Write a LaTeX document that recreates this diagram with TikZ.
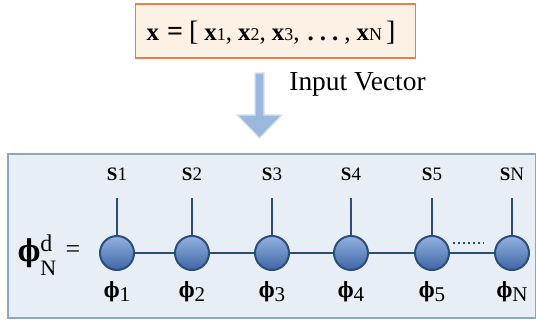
\documentclass[tikz,border=0pt]{standalone}
\usepackage{fontspec}
\setmainfont{Liberation Serif}
\newfontfamily\grkfont{DejaVu Serif}
\usepackage{amsmath}
\usetikzlibrary{positioning}
\definecolor{boxpeach}{HTML}{FDF1E6}
\definecolor{boxorange}{HTML}{E2814A}
\definecolor{panelfill}{HTML}{E8EEF6}
\definecolor{panelline}{HTML}{8EA5C6}
\definecolor{bondblue}{HTML}{2C4C7C}
\definecolor{arrowblue}{HTML}{9CB8DE}
\definecolor{balltop}{HTML}{93B3E0}
\definecolor{ballbot}{HTML}{3E66A6}
\newcommand{\bphi}{\scalebox{0.8}[1]{\grkfont\bfseries ϕ}}
\newcommand{\phisym}[1]{\bphi\raisebox{-0.4ex}{#1}}
\newcommand{\xel}[1]{{\bfseries x}{\fontsize{9}{9}\selectfont #1}}

\begin{document}
\begin{tikzpicture}[x=0.5pt, y=-0.5pt,
  site/.style={circle, minimum size=17pt, inner sep=0pt, draw=bondblue, line width=1pt,
    top color=balltop, bottom color=ballbot},
  bond/.style={bondblue, line width=1.2pt},
  slabel/.style={font=\fontsize{9.5}{10}\selectfont},
  plabel/.style={font=\fontsize{10.5}{12}\selectfont}]
\useasboundingbox (0,0) rectangle (536,320);
% input vector box
\node[draw=boxorange, fill=boxpeach, line width=0.8pt, minimum width=140pt, minimum height=27pt] (vec) at (275.5,31) {};
\node[anchor=base, inner sep=0pt, font=\fontsize{12.5}{13}\selectfont] (vectxt) at (271,41)
  {\xel{}\hspace{4pt}{\fontsize{14}{14}\selectfont\bfseries =}\hspace{3pt}{\fontsize{14}{14}\selectfont [}\hspace{3pt}%
   \xel{1},\hspace{3pt}\xel{2},\hspace{3pt}\xel{3},\hspace{4pt}{\bfseries .\hspace{3pt}.\hspace{3pt}.}\hspace{3pt},\hspace{3pt}\xel{N}\hspace{2pt}{\fontsize{14}{14}\selectfont ]}};
\fill[arrowblue, draw=arrowblue!40, line width=0.6pt] (255,73) -- (264,73) -- (264,115) -- (282,115) -- (259.5,138)
  -- (237,115) -- (255,115) -- cycle;
\node[anchor=base west, font=\fontsize{13.7}{15}\selectfont, inner sep=0pt] (inlab) at (289,91) {Input Vector};
% chain panel
\node[draw=panelline, fill=panelfill, line width=1pt, minimum width=264pt, minimum height=82pt,
  anchor=north west] (panel) at (7,153) {};
\node[font=\fontsize{15}{17}\selectfont, inner sep=0pt] (phid) at (37,255)
  {\bphi\rlap{\raisebox{5pt}{\fontsize{12}{12}\selectfont d}}\raisebox{-7pt}{\fontsize{11}{11}\selectfont N}};
\node[font=\fontsize{13}{14}\selectfont] (eq) at (73,252) {=};
\foreach \i/\x/\n in {1/117/1,2/192/2,3/272/3,4/351/4,5/432/5,6/512/N} {
  \node[site] (c\i) at (\x,253) {};
  \coordinate (t\i) at (\x,198);
  \node[slabel] (s\i) at (\x,174) {\textbf{S}\n};
  \node[plabel] (p\i) at (\x,292) {\phisym{\n}};
  \draw[bond] (c\i) -- (t\i);
}
\foreach \i [evaluate=\i as \j using int(\i+1)] in {1,...,5}
  \draw[bond] (c\i) -- (c\j);
\draw[bondblue, line width=1.4pt, dash pattern=on 0.9pt off 1.6pt, shorten <=1.5pt, shorten >=5pt]
  ([yshift=5pt]c5.east) -- ([yshift=5pt]c6.west);
\end{tikzpicture}
\end{document}
